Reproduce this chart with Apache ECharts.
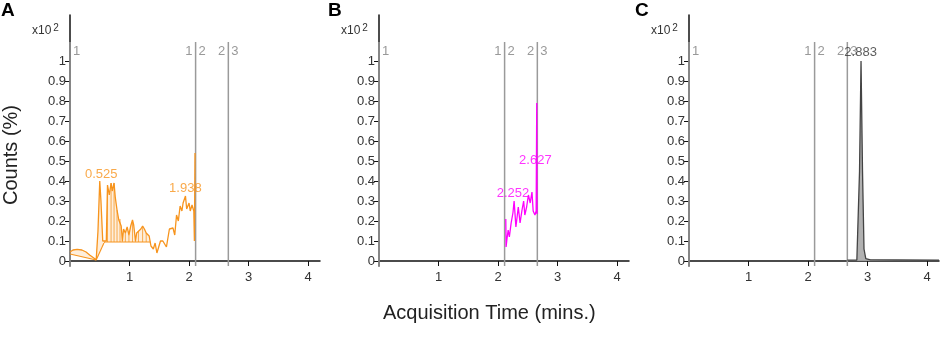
<!DOCTYPE html>
<html>
<head>
<meta charset="utf-8">
<script src="https://cdn.jsdelivr.net/npm/echarts@6/dist/echarts.min.js"></script>
<style>
  html, body { margin: 0; padding: 0; background: #fff; }
  #chart { width: 941px; height: 346px; }
</style>
</head>
<body>
<div id="chart"></div>
<script>
// chromatogram traces, [time (min), counts x10^2]
const traceA = [
  [0.00, 0.045], [0.05, 0.055], [0.12, 0.058], [0.20, 0.055], [0.27, 0.045], [0.33, 0.030],
  [0.40, 0.015], [0.44, 0.005], [0.47, 0.15], [0.50, 0.40], [0.52, 0.30], [0.55, 0.10],
  [0.58, 0.09], [0.61, 0.10], [0.63, 0.38], [0.66, 0.33], [0.69, 0.39], [0.71, 0.35],
  [0.74, 0.39], [0.76, 0.32], [0.79, 0.255], [0.82, 0.205], [0.84, 0.21], [0.86, 0.175],
  [0.88, 0.10], [0.90, 0.16], [0.93, 0.14], [0.96, 0.17], [0.99, 0.13], [1.02, 0.175],
  [1.05, 0.205], [1.07, 0.18], [1.10, 0.10], [1.12, 0.14], [1.15, 0.147], [1.19, 0.16],
  [1.22, 0.175], [1.25, 0.16], [1.28, 0.14], [1.33, 0.125], [1.36, 0.075], [1.40, 0.06],
  [1.43, 0.09], [1.46, 0.04], [1.49, 0.07], [1.52, 0.10], [1.56, 0.10], [1.59, 0.085],
  [1.62, 0.07], [1.64, 0.06], [1.67, 0.16], [1.70, 0.15], [1.73, 0.165], [1.76, 0.13],
  [1.79, 0.23], [1.82, 0.20], [1.85, 0.275], [1.88, 0.25], [1.90, 0.29], [1.94, 0.325],
  [1.96, 0.26], [2.00, 0.29], [2.02, 0.25], [2.05, 0.28], [2.08, 0.25], [2.09, 0.10],
  [2.10, 0.54]
];
const traceB = [
  [2.13, 0.21], [2.135, 0.07], [2.15, 0.11], [2.17, 0.155], [2.19, 0.12], [2.22, 0.19],
  [2.25, 0.24], [2.27, 0.30], [2.30, 0.17], [2.32, 0.22], [2.34, 0.27], [2.37, 0.19],
  [2.40, 0.25], [2.43, 0.30], [2.45, 0.23], [2.48, 0.27], [2.51, 0.33], [2.54, 0.29],
  [2.57, 0.345], [2.59, 0.25], [2.62, 0.23], [2.64, 0.25], [2.65, 0.79], [2.655, 0.235]
];
const traceC = [
  [2.66, 0.004], [2.75, 0.004], [2.82, 0.005], [2.845, 0.012], [2.865, 0.45], [2.89, 1.0],
  [2.915, 0.45], [2.94, 0.06], [2.97, 0.012], [3.05, 0.006], [3.5, 0.005], [4.2, 0.004]
];

// integrated regions in A: [x0, base0, x1, base1, hatched]
const regionsA = [
  [0.00, 0.035, 0.44, 0.005, 0],
  [0.44, 0.005, 0.57, 0.09, 0],
  [0.57, 0.095, 1.35, 0.095, 1]
];

// labelled peaks: [time, apex, text]
const peaksA = [[0.525, 0.39, '0.525'], [1.938, 0.32, '1.938']];
const peaksB = [[2.252, 0.295, '2.252'], [2.627, 0.46, '2.627']];
const peaksC = [[2.883, 1.0, '2.883']];

// segment markers
const markerTimes = [0.0, 2.11, 2.66];
const markerLeft = ['', '1', '2'];
const markerRight = ['1', '2', '3'];

const yTicks = [0, 0.1, 0.2, 0.3, 0.4, 0.5, 0.6, 0.7, 0.8, 0.9, 1];
const xTicks = [1, 2, 3, 4];

const FONT = 'Arial, "Liberation Sans", sans-serif';
const chart = echarts.init(document.getElementById('chart'));

const lefts = [70, 379, 689];
const panelNames = ['A', 'B', 'C'];
const traces = [traceA, traceB, traceC];
const peaks = [peaksA, peaksB, peaksC];
const colors = ['#F7941D', '#FF00FF', '#444444'];

function axisPair(i) {
  return {
    x: {
      type: 'value', gridIndex: i, min: 0, max: 4.2,
      axisLine: { lineStyle: { color: '#111', width: 1.5 } },
      axisTick: { customValues: xTicks, length: 5, lineStyle: { color: '#111' } },
      axisLabel: { customValues: xTicks, margin: 5, fontSize: 13, color: '#333', fontFamily: FONT },
      splitLine: { show: false }
    },
    y: {
      type: 'value', gridIndex: i, min: -0.025, max: 1.23,
      axisLine: { show: true, lineStyle: { color: '#111', width: 1.5 } },
      axisTick: { show: true, customValues: yTicks, length: 5, lineStyle: { color: '#111' } },
      axisLabel: {
        customValues: yTicks, margin: 4, fontSize: 13, color: '#333', fontFamily: FONT,
        formatter: (v) => String(+v.toFixed(1))
      },
      splitLine: { show: false }
    }
  };
}

function markerSeries(i) {
  return {
    type: 'custom', xAxisIndex: i, yAxisIndex: i, clip: false, z: 1, silent: true,
    data: markerTimes.map((t, k) => [t, k]),
    renderItem: (params, api) => {
      const t = api.value(0);
      const k = api.value(1);
      const top = api.coord([t, 1.095]);
      const bot = api.coord([t, -0.025]);
      const lab = api.coord([t, 1.06]);
      return {
        type: 'group',
        children: [
          { type: 'line', shape: { x1: top[0], y1: top[1], x2: bot[0], y2: bot[1] },
            style: { stroke: '#9a9a9a', lineWidth: 1.5 } },
          { type: 'text', x: lab[0] - 3, y: lab[1] + 2,
            style: { text: markerLeft[k], fill: '#999', font: '13px ' + FONT, align: 'right', verticalAlign: 'middle' } },
          { type: 'text', x: lab[0] + 3, y: lab[1] + 2,
            style: { text: markerRight[k], fill: '#999', font: '13px ' + FONT, align: 'left', verticalAlign: 'middle' } }
        ]
      };
    }
  };
}

function baseAt(r, x) {
  return r[1] + (r[3] - r[1]) * (x - r[0]) / (r[2] - r[0]);
}

const integrationSeries = {
  type: 'custom', xAxisIndex: 0, yAxisIndex: 0, z: 2, silent: true,
  data: regionsA.map((r, k) => [r[0], r[1], k]),
  renderItem: (params, api) => {
    const r = regionsA[api.value(2)];
    const pts = traceA.filter((p) => p[0] >= r[0] && p[0] <= r[2]);
    const poly = [api.coord([r[0], r[1]])];
    pts.forEach((p) => poly.push(api.coord(p)));
    poly.push(api.coord([r[2], r[3]]));
    const children = [
      { type: 'polygon', shape: { points: poly }, style: { fill: 'rgba(247,148,29,0.16)', stroke: 'none' } },
      { type: 'line', shape: { x1: poly[0][0], y1: poly[0][1], x2: poly[poly.length - 1][0], y2: poly[poly.length - 1][1] },
        style: { stroke: '#F7941D', lineWidth: 1.1 } }
    ];
    if (r[4]) {
      pts.forEach((p, j) => {
        if (j % 2) return;
        const a = api.coord([p[0], baseAt(r, p[0])]);
        const b = api.coord(p);
        children.push({ type: 'line', shape: { x1: a[0], y1: a[1], x2: b[0], y2: b[1] },
          style: { stroke: '#F7941D', lineWidth: 1, opacity: 0.75 } });
      });
    }
    return { type: 'group', children };
  }
};

const grids = [];
const xAxes = [];
const yAxes = [];
const series = [];
const graphics = [];

lefts.forEach((left, i) => {
  grids.push({ left: left, top: 15, width: 250, height: 251 });
  const ax = axisPair(i);
  xAxes.push(ax.x);
  yAxes.push(ax.y);
  series.push(markerSeries(i));
  series.push({
    type: 'line', xAxisIndex: i, yAxisIndex: i, data: traces[i], z: 3,
    showSymbol: false, smooth: false,
    lineStyle: { color: colors[i], width: 1.3 },
    areaStyle: i === 2 ? { color: '#a8a8a8', opacity: 0.9 } : null
  });
  series.push({
    type: 'scatter', xAxisIndex: i, yAxisIndex: i, data: peaks[i], z: 4,
    symbolSize: 1, itemStyle: { color: 'rgba(0,0,0,0)' },
    label: {
      show: true, position: 'top', distance: 2, fontSize: 13, fontFamily: FONT,
      color: i === 2 ? '#333' : colors[i], formatter: (p) => p.value[2]
    }
  });
  graphics.push({
    type: 'text', left: left - 38, top: 23,
    style: {
      text: '{a|x10}{b|2}', font: '12px ' + FONT,
      rich: {
        a: { fontSize: 12, fontFamily: FONT, fill: '#333', color: '#333' },
        b: { fontSize: 10, fontFamily: FONT, fill: '#333', color: '#333', verticalAlign: 'top', padding: [0, 0, 6, 2] }
      }
    }
  });
  graphics.push({
    type: 'text', left: [1, 328, 635][i], top: 1,
    style: { text: panelNames[i], font: 'bold 19px ' + FONT, fill: '#000' }
  });
});

series.splice(1, 0, integrationSeries);

graphics.push({
  type: 'text', left: 1, top: 105, rotation: Math.PI / 2,
  style: { text: 'Counts (%)', font: '20px ' + FONT, fill: '#222' }
});
graphics.push({
  type: 'text', left: 383, top: 303,
  style: { text: 'Acquisition Time (mins.)', font: '20px ' + FONT, fill: '#222' }
});

chart.setOption({
  animation: false,
  grid: grids,
  xAxis: xAxes,
  yAxis: yAxes,
  series: series,
  graphic: graphics
});
</script>
</body>
</html>
